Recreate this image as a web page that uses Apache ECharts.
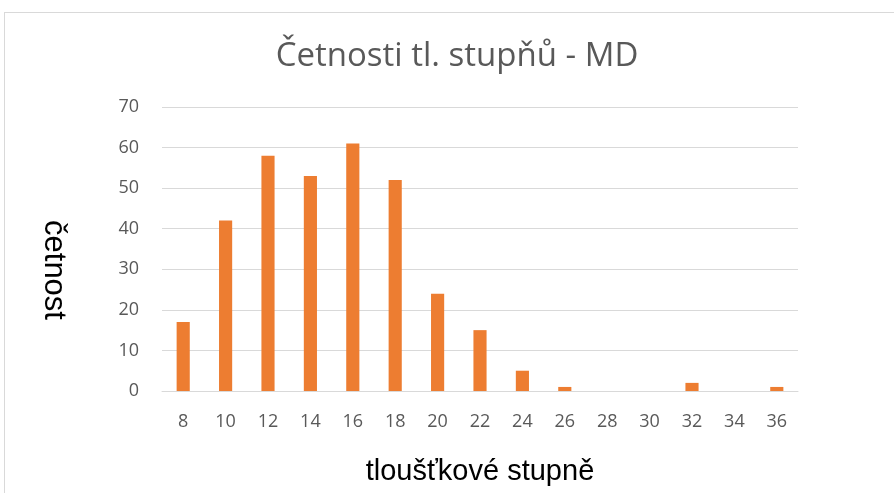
<!DOCTYPE html>
<html>
<head>
<meta charset="utf-8">
<script src="https://cdn.jsdelivr.net/npm/echarts@6/dist/echarts.min.js"></script>
<style>
html,body{margin:0;padding:0;background:#fff;overflow:hidden;width:894px;height:493px;}
#frame{position:absolute;left:4px;top:12px;width:900px;height:490px;border:1px solid #d9d9d9;box-sizing:border-box;}
#chart{position:absolute;left:0;top:0;width:894px;height:493px;}
</style>
</head>
<body>
<div id="frame"></div>
<div id="chart"></div>
<script>
const categories = ['8','10','12','14','16','18','20','22','24','26','28','30','32','34','36'];
const counts = [17, 42, 58, 53, 61, 52, 24, 15, 5, 1, 0, 0, 2, 0, 1];
const yTicks = [0, 10, 20, 30, 40, 50, 60, 70];
const yAxisTitle = 'četnost';

const chart = echarts.init(document.getElementById('chart'), null, {renderer: 'canvas', width: 894, height: 493});
chart.setOption({
  animation: false,
  backgroundColor: 'transparent',
  title: {
    text: 'Četnosti tl. stupňů - MD',
    left: 452, top: 35, textAlign: 'center',
    textStyle: {fontFamily: 'Open Sans', fontSize: 33, fontWeight: 'normal', color: '#595959'}
  },
  graphic: [{
    type: 'text',
    x: 54, y: 270,
    rotation: -Math.PI / 2,
    style: {
      text: yAxisTitle,
      fontFamily: 'Liberation Sans', fontSize: 31, fill: '#000',
      align: 'center', verticalAlign: 'middle'
    }
  }],
  grid: {left: 162, right: 96, top: 107, bottom: 102, containLabel: false},
  xAxis: {
    type: 'category',
    data: categories,
    name: 'tloušťkové stupně',
    nameLocation: 'middle',
    nameGap: 66,
    nameTextStyle: {fontFamily: 'Liberation Sans', fontSize: 29, color: '#000'},
    axisLine: {show: true, lineStyle: {color: '#d9d9d9', width: 1}},
    axisTick: {show: false},
    axisLabel: {fontFamily: 'Open Sans', fontSize: 18, color: '#595959', margin: 22}
  },
  yAxis: {
    type: 'value',
    min: 0, max: 70, interval: 10,
    axisLine: {show: false},
    axisTick: {show: false},
    splitLine: {lineStyle: {color: '#d9d9d9', width: 1}},
    axisLabel: {fontFamily: 'Open Sans', fontSize: 18, color: '#595959', margin: 23,
      formatter: v => yTicks.includes(v) ? String(v) : ''}
  },
  series: [{
    type: 'bar',
    data: counts,
    barWidth: '31%',
    itemStyle: {color: '#ED7D31'}
  }]
});
</script>
</body>
</html>
